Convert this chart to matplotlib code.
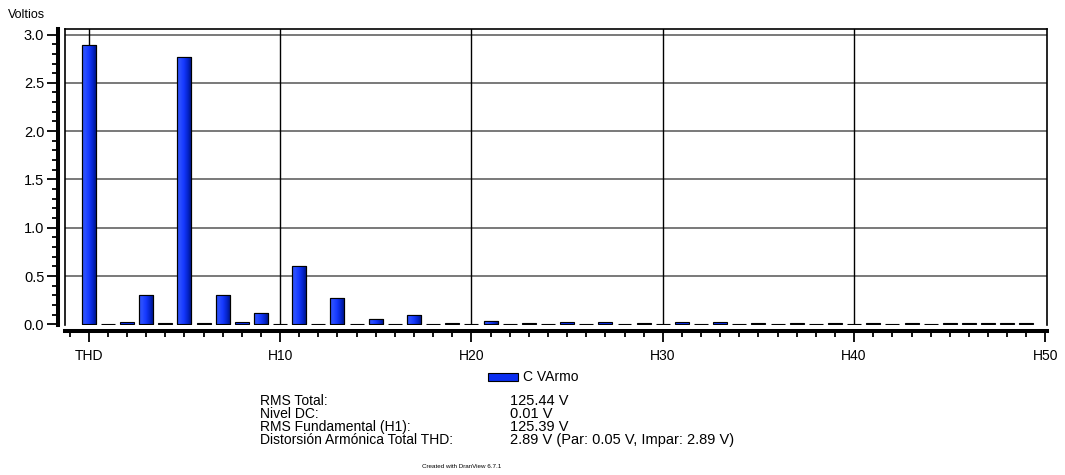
import matplotlib
matplotlib.use("Agg")
import matplotlib.pyplot as plt
import numpy as np
from matplotlib.colors import LinearSegmentedColormap
from matplotlib.lines import Line2D
from matplotlib.patches import Rectangle

plt.rcParams['font.family'] = ['Liberation Sans', 'DejaVu Sans']

# ---- data ----
categories = ['THD'] + ['H%d' % i for i in range(1, 50)]
values = [2.89, 0.005, 0.02, 0.30, 0.01, 2.77, 0.01, 0.30, 0.02, 0.12,
          0.005, 0.60, 0.005, 0.27, 0.005, 0.06, 0.005, 0.10, 0.005, 0.01,
          0.005, 0.04, 0.005, 0.01, 0.005, 0.02, 0.005, 0.02, 0.005, 0.01,
          0.005, 0.02, 0.005, 0.02, 0.005, 0.01, 0.005, 0.01, 0.005, 0.01,
          0.005, 0.01, 0.005, 0.01, 0.005, 0.01, 0.01, 0.01, 0.01, 0.01]
xtick_labels = ['THD', 'H10', 'H20', 'H30', 'H40', 'H50']
ytick_values = [0.0, 0.5, 1.0, 1.5, 2.0, 2.5, 3.0]
series_name = 'C VArmo'
y_label = 'Voltios'
info_labels = ['RMS Total:', 'Nivel DC:', 'RMS Fundamental (H1):',
               'Distorsión Armónica Total THD:']
info_values = ['125.44 V', '0.01 V', '125.39 V',
               '2.89 V (Par: 0.05 V, Impar: 2.89 V)']
footer = 'Created with DranView 6.7.1'

W, H = 1065, 475
fig = plt.figure(figsize=(W / 100, H / 100), dpi=100)

def px(x0, y0, x1, y1):
    return [x0 / W, 1 - y1 / H, (x1 - x0) / W, (y1 - y0) / H]

ax = fig.add_axes(px(65, 29.3, 1047, 325))
xpos = np.arange(len(values))
xlim = (-1.24, 50.08)
ylim = (-0.006, 3.054)

# grid
for yv in ytick_values[1:]:
    ax.axhline(yv, color='#555555', lw=1.1, zorder=0.5)
for xv in [0, 10, 20, 30, 40]:
    ax.axvline(xv, color='black', lw=1.0, zorder=0.5)

bar_color = '#0a30f0'
bars = ax.bar(xpos, values, width=0.73, color=bar_color, edgecolor='black',
              linewidth=0.8, zorder=2)
grad_cmap = LinearSegmentedColormap.from_list(
    'g', [(0, '#2a4ae0'), (0.2, '#2c50ff'), (0.5, '#1438ff'),
          (0.8, '#0424c8'), (1.0, '#00168a')])
grad = np.linspace(0, 1, 64).reshape(1, -1)
for b in bars:
    h = b.get_height()
    if h > 0.03:
        im = ax.imshow(grad, extent=[b.get_x(), b.get_x() + b.get_width(), 0, h],
                       aspect='auto', cmap=grad_cmap, zorder=2.5,
                       interpolation='bilinear')
        im.set_clip_path(b)
        r = Rectangle((b.get_x(), 0), b.get_width(), h, fill=False,
                      edgecolor='black', linewidth=0.8, zorder=3)
        ax.add_patch(r)

ax.set_xlim(*xlim)
ax.set_ylim(*ylim)

# spines
for s in ['top', 'right']:
    ax.spines[s].set_color('black')
    ax.spines[s].set_linewidth(1.2)
ax.spines['left'].set_position(('outward', 5.4))
ax.spines['left'].set_linewidth(2.9)
ax.spines['bottom'].set_position(('outward', 4.0))
ax.spines['bottom'].set_linewidth(2.9)
ax.add_line(Line2D([0, 0], [0, 1], transform=ax.transAxes, color='black',
                   lw=1.2, clip_on=False, zorder=4))

ax.set_yticks(ytick_values)
ax.set_yticklabels(['%.1f' % v for v in ytick_values])
ax.set_yticks(np.arange(0, 3.01, 0.1), minor=True)
ax.tick_params(axis='y', which='major', length=8, width=1.3, pad=1.5,
               labelsize=10.5, colors='black')
ax.tick_params(axis='y', which='minor', length=4, width=1.3)

ax.set_xticks([0, 10, 20, 30, 40, 50])
ax.set_xticklabels(xtick_labels)
ax.set_xticks(np.arange(-1, 51, 1), minor=True)
ax.tick_params(axis='x', which='major', length=8, width=1.3, pad=5,
               labelsize=10, colors='black')
ax.tick_params(axis='x', which='minor', length=4, width=1.3)

fig.text(8 / W, 1 - 15 / H, y_label, fontsize=9, va='center', ha='left')

# legend
fig.patches.append(Rectangle((488 / W, 1 - 381 / H), 30 / W, 8 / H,
                             transform=fig.transFigure, facecolor='#0a2ef0',
                             edgecolor='black', linewidth=0.8))
fig.text(523 / W, 1 - 377 / H, series_name, fontsize=10, va='center', ha='left')

rows_y = [401, 414, 427, 440]
for lab, val, yy in zip(info_labels, info_values, rows_y):
    fig.text(260 / W, 1 - yy / H, lab, fontsize=10, va='center', ha='left')
    fig.text(510 / W, 1 - yy / H, val, fontsize=10.5, va='center', ha='left')

fig.text(462 / W, 1 - 466 / H, footer, fontsize=4.5, va='center', ha='center')

fig.savefig('out.png', dpi=100)
